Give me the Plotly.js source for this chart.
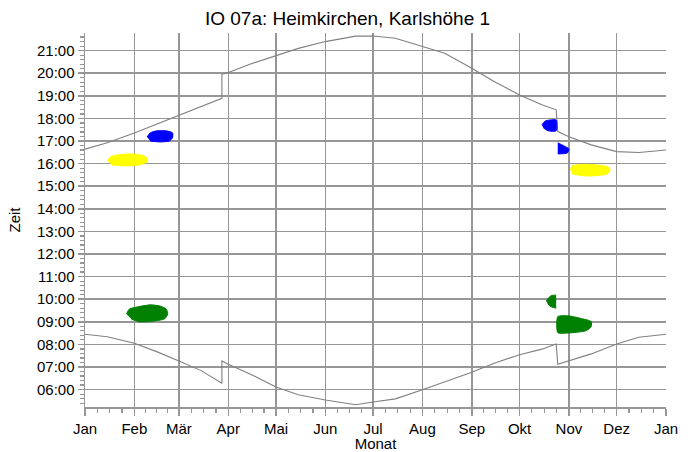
<!DOCTYPE html>
<html>
<head>
<meta charset="utf-8">
<script src="https://cdn.plot.ly/plotly-3.0.1.min.js"></script>
<style>
  html, body { margin: 0; padding: 0; background: #fff; }
  #graph { width: 695px; height: 452px; }
</style>
</head>
<body>
<div id="graph"></div>
<script>
//***** data
var months = ['2009-01-01','2009-02-01','2009-03-01','2009-04-01','2009-05-01','2009-06-01',
  '2009-07-01','2009-08-01','2009-09-01','2009-10-01','2009-11-01','2009-12-01','2010-01-01'];
var monthNames = ['Jan','Feb','Mär','Apr','Mai','Jun','Jul','Aug','Sep','Okt','Nov','Dez','Jan'];

var hourVals = [6,7,8,9,10,11,12,13,14,15,16,17,18,19,20,21];
var hourText = ['06:00','07:00','08:00','09:00','10:00','11:00','12:00','13:00',
  '14:00','15:00','16:00','17:00','18:00','19:00','20:00','21:00'];

// sunrise / sunset (with DST jumps)
var sunDates = ['2009-01-01','2009-01-15','2009-02-01','2009-02-15','2009-03-01','2009-03-15',
  '2009-03-28','2009-03-28','2009-04-01','2009-04-15','2009-05-01','2009-05-15','2009-06-01',
  '2009-06-20','2009-07-01','2009-07-15','2009-08-01','2009-08-15','2009-09-01','2009-09-15',
  '2009-10-01','2009-10-15','2009-10-24','2009-10-25','2009-11-01','2009-11-15','2009-12-01',
  '2009-12-15','2010-01-01'];
var sunset = [16.64,16.92,17.35,17.74,18.12,18.50,18.89,19.96,20.03,20.41,20.77,21.10,21.40,
  21.64,21.65,21.55,21.18,20.88,20.22,19.63,19.04,18.60,18.38,17.42,17.19,16.83,16.53,16.49,16.60];
var sunrise = [8.45,8.34,8.05,7.68,7.27,6.84,6.28,7.27,7.12,6.68,6.11,5.77,5.54,
  5.33,5.45,5.59,5.99,6.33,6.77,7.17,7.54,7.79,8.02,7.12,7.28,7.58,8.02,8.32,8.45];

// shadow areas (outlines)
var yellowFebX = ['2009-01-15','2009-01-17','2009-01-22','2009-01-29','2009-02-05','2009-02-09','2009-02-09','2009-02-04','2009-01-26','2009-01-18'];
var yellowFebY = [16.12,16.30,16.39,16.43,16.39,16.25,16.08,15.94,15.90,15.94];
var blueFebX = ['2009-02-09','2009-02-11','2009-02-15','2009-02-21','2009-02-25','2009-02-25','2009-02-23','2009-02-17','2009-02-11'];
var blueFebY = [17.18,17.36,17.45,17.45,17.36,17.14,17.00,16.96,17.00];
var greenFebX = ['2009-01-27','2009-01-29','2009-02-03','2009-02-11','2009-02-17','2009-02-21','2009-02-22','2009-02-20','2009-02-14','2009-02-04','2009-01-30'];
var greenFebY = [9.35,9.57,9.66,9.75,9.70,9.57,9.35,9.13,9.04,9.00,9.13];

var blueOctX = ['2009-10-15','2009-10-17','2009-10-20','2009-10-24','2009-10-24','2009-10-19','2009-10-16'];
var blueOctY = [17.71,17.88,17.93,17.93,17.45,17.45,17.58];
var blueNovX = ['2009-10-25','2009-10-26','2009-10-29','2009-11-01','2009-10-31','2009-10-25'];
var blueNovY = [16.92,16.89,16.78,16.65,16.47,16.43];
var yellowNovX = ['2009-11-02','2009-11-03','2009-11-12','2009-11-25','2009-11-27','2009-11-25','2009-11-12','2009-11-03'];
var yellowNovY = [15.72,15.90,15.97,15.87,15.72,15.54,15.45,15.54];
var greenOctX = ['2009-10-24','2009-10-21','2009-10-18','2009-10-20','2009-10-24'];
var greenOctY = [10.18,10.16,9.94,9.70,9.60];
var greenNovX = ['2009-10-25','2009-10-25','2009-10-31','2009-11-08','2009-11-15','2009-11-15','2009-11-12','2009-10-31','2009-10-25'];
var greenNovY = [8.52,9.23,9.27,9.16,9.01,8.79,8.61,8.50,8.52];
//***** end of data

var YELLOW = '#ffff00', BLUE = '#0000ff', GREEN = '#008000';

function sunLine(y){
  return {x: sunDates, y: y, type: 'scatter', mode: 'lines',
    line: {color: '#808080', width: 1.1}, hoverinfo: 'skip'};
}
function blob(x, y, color){
  return {x: x, y: y, type: 'scatter', mode: 'lines', fill: 'toself',
    fillcolor: color, line: {color: color, width: 1, shape: 'spline', smoothing: 0.6},
    hoverinfo: 'skip'};
}

var data = [
  sunLine(sunset), sunLine(sunrise),
  blob(yellowFebX, yellowFebY, YELLOW), blob(blueFebX, blueFebY, BLUE), blob(greenFebX, greenFebY, GREEN),
  blob(blueOctX, blueOctY, BLUE), blob(blueNovX, blueNovY, BLUE), blob(yellowNovX, yellowNovY, YELLOW),
  blob(greenOctX, greenOctY, GREEN), blob(greenNovX, greenNovY, GREEN)
];

// minor ticks: quarter months
var minorX = [];
for (var i = 0; i < months.length - 1; i++) {
  var a = new Date(months[i] + 'T00:00:00Z').getTime();
  var b = new Date(months[i+1] + 'T00:00:00Z').getTime();
  for (var k = 1; k < 4; k++) minorX.push(a + (b - a) * k / 4);
}

var gridCol = '#969696';
var layout = {
  width: 695,
  height: 452,
  margin: {l: 85, r: 29, t: 33, b: 45},
  paper_bgcolor: '#fff',
  plot_bgcolor: '#fff',
  showlegend: false,
  font: {family: 'Liberation Sans, Arial, sans-serif', size: 15, color: '#000'},
  title: {text: 'IO 07a: Heimkirchen, Karlshöhe 1', font: {size: 19},
    x: 0.5, xanchor: 'center', y: 0.975, yanchor: 'top'},
  xaxis: {
    type: 'date',
    range: ['2009-01-01', '2010-01-01'],
    tickmode: 'array',
    tickvals: months,
    ticktext: monthNames,
    ticks: 'outside', ticklen: 7, tickcolor: gridCol, tickwidth: 1.5,
    showgrid: true, gridcolor: gridCol, gridwidth: 1.5,
    showline: true, linecolor: gridCol, linewidth: 1.5,
    zeroline: false,
    minor: {tickmode: 'array', tickvals: minorX, ticks: 'outside', ticklen: 4,
      tickcolor: gridCol, tickwidth: 1.2, showgrid: false},
    title: {text: 'Monat', font: {size: 15}, standoff: 0}
  },
  yaxis: {
    range: [5.23, 21.78],
    tickmode: 'array',
    tickvals: hourVals,
    ticktext: hourText,
    ticks: 'outside', ticklen: 6, tickcolor: gridCol, tickwidth: 1.5,
    showgrid: true, gridcolor: gridCol, gridwidth: 1.5,
    showline: true, linecolor: gridCol, linewidth: 1.5,
    zeroline: false,
    minor: {tickmode: 'linear', tick0: 0, dtick: 0.2, ticks: 'outside', ticklen: 4,
      tickcolor: gridCol, tickwidth: 1.2, showgrid: false},
    title: {text: 'Zeit', font: {size: 15}, standoff: 12}
  }
};

Plotly.newPlot('graph', data, layout, {staticPlot: true, displayModeBar: false});
</script>
</body>
</html>
